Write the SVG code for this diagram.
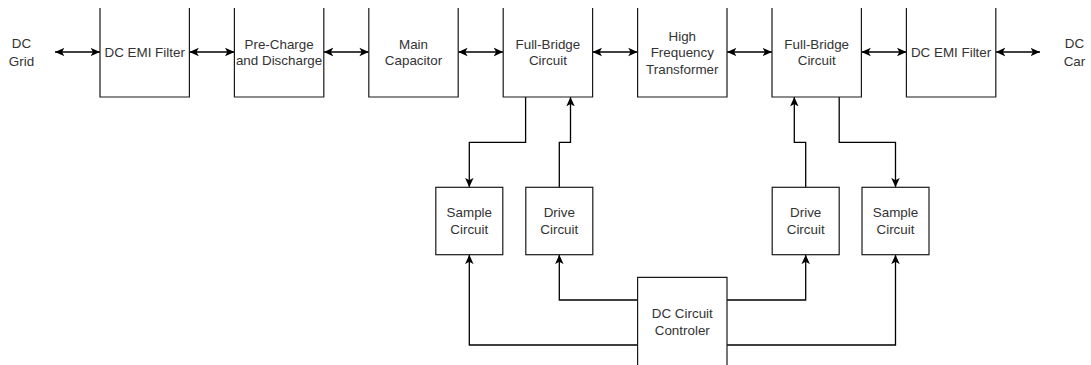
<svg xmlns="http://www.w3.org/2000/svg" width="1091" height="365" viewBox="0 0 1091 365">
<style>
.box{fill:#fff;stroke:#1a1a1a;stroke-width:1.2}
.t{font-family:"Liberation Sans",Arial,Helvetica,sans-serif;font-size:13.4px;fill:#333;text-anchor:middle}
.c{fill:none;stroke:#000;stroke-width:1.3}
</style>
<defs>
<marker id="arr" viewBox="0 0 10 10" refX="10" refY="5" markerWidth="9.4" markerHeight="9.4" markerUnits="userSpaceOnUse" orient="auto-start-reverse">
<path d="M10,5 L0,0.5 L2.5,5 L0,9.5 Z" fill="#000"/>
</marker>
</defs>
<rect width="1091" height="365" fill="#fff"/>

<g id="connectors">
<path class="c" d="M55,52 H100" marker-start="url(#arr)" marker-end="url(#arr)"/>
<path class="c" d="M189.4,52 H234.4" marker-start="url(#arr)" marker-end="url(#arr)"/>
<path class="c" d="M323.8,52 H368.8" marker-start="url(#arr)" marker-end="url(#arr)"/>
<path class="c" d="M458.2,52 H503.2" marker-start="url(#arr)" marker-end="url(#arr)"/>
<path class="c" d="M592.6,52 H637.6" marker-start="url(#arr)" marker-end="url(#arr)"/>
<path class="c" d="M727,52 H772" marker-start="url(#arr)" marker-end="url(#arr)"/>
<path class="c" d="M861.4,52 H906.4" marker-start="url(#arr)" marker-end="url(#arr)"/>
<path class="c" d="M995.8,52 H1040" marker-start="url(#arr)" marker-end="url(#arr)"/>
<path class="c" d="M525.6,97 V142.3 H469.3 V187.3" marker-end="url(#arr)"/>
<path class="c" d="M559.3,187.3 V142.3 H570.5 V97" marker-end="url(#arr)"/>
<path class="c" d="M805.7,187.3 V142.3 H794.3 V97" marker-end="url(#arr)"/>
<path class="c" d="M839.2,97 V142.3 H895.5 V187.3" marker-end="url(#arr)"/>
<path class="c" d="M637.6,300 H559.3 V254.7" marker-end="url(#arr)"/>
<path class="c" d="M637.6,345 H469.3 V254.7" marker-end="url(#arr)"/>
<path class="c" d="M727,300 H805.7 V254.7" marker-end="url(#arr)"/>
<path class="c" d="M727,345 H895.5 V254.7" marker-end="url(#arr)"/>
</g>

<g id="dc-grid">
<text class="t" x="21.5" y="48.4">DC</text>
<text class="t" x="21.5" y="65.6">Grid</text>
</g>

<g id="emi-filter-1">
<path class="box" d="M100,8 V97 H189.4 V8"/>
<text class="t" x="144.7" y="56.7">DC EMI Filter</text>
</g>

<g id="pre-charge">
<path class="box" d="M234.4,8 V97 H323.8 V8"/>
<text class="t" x="279.1" y="48.7">Pre-Charge</text>
<text class="t" x="279.1" y="65.2">and Discharge</text>
</g>

<g id="main-capacitor">
<path class="box" d="M368.8,8 V97 H458.2 V8"/>
<text class="t" x="413.5" y="48.7">Main</text>
<text class="t" x="413.5" y="65.2">Capacitor</text>
</g>

<g id="full-bridge-1">
<path class="box" d="M503.2,8 V97 H592.6 V8"/>
<text class="t" x="547.9" y="48.7">Full-Bridge</text>
<text class="t" x="547.9" y="65.2">Circuit</text>
</g>

<g id="hf-transformer">
<path class="box" d="M637.6,8 V97 H727 V8"/>
<text class="t" x="682.3" y="40.7">High</text>
<text class="t" x="682.3" y="57">Frequency</text>
<text class="t" x="682.3" y="73.5">Transformer</text>
</g>

<g id="full-bridge-2">
<path class="box" d="M772,8 V97 H861.4 V8"/>
<text class="t" x="816.7" y="48.7">Full-Bridge</text>
<text class="t" x="816.7" y="65.2">Circuit</text>
</g>

<g id="emi-filter-2">
<path class="box" d="M906.4,8 V97 H995.8 V8"/>
<text class="t" x="951.1" y="56.7">DC EMI Filter</text>
</g>

<g id="dc-car">
<text class="t" x="1074.5" y="48.4">DC</text>
<text class="t" x="1074.5" y="65.6">Car</text>
</g>

<g id="sample-1">
<rect class="box" x="435.8" y="187.3" width="67" height="67.4"/>
<text class="t" x="469.3" y="217.4">Sample</text>
<text class="t" x="469.3" y="233.9">Circuit</text>
</g>

<g id="drive-1">
<rect class="box" x="525.8" y="187.3" width="67" height="67.4"/>
<text class="t" x="559.3" y="217.4">Drive</text>
<text class="t" x="559.3" y="233.9">Circuit</text>
</g>

<g id="drive-2">
<rect class="box" x="772.2" y="187.3" width="67" height="67.4"/>
<text class="t" x="805.7" y="217.4">Drive</text>
<text class="t" x="805.7" y="233.9">Circuit</text>
</g>

<g id="sample-2">
<rect class="box" x="862" y="187.3" width="67" height="67.4"/>
<text class="t" x="895.5" y="217.4">Sample</text>
<text class="t" x="895.5" y="233.9">Circuit</text>
</g>

<g id="controller">
<path class="box" d="M637.6,370 V277.3 H727 V370"/>
<text class="t" x="682.3" y="318">DC Circuit</text>
<text class="t" x="682.3" y="335">Controler</text>
</g>
</svg>
